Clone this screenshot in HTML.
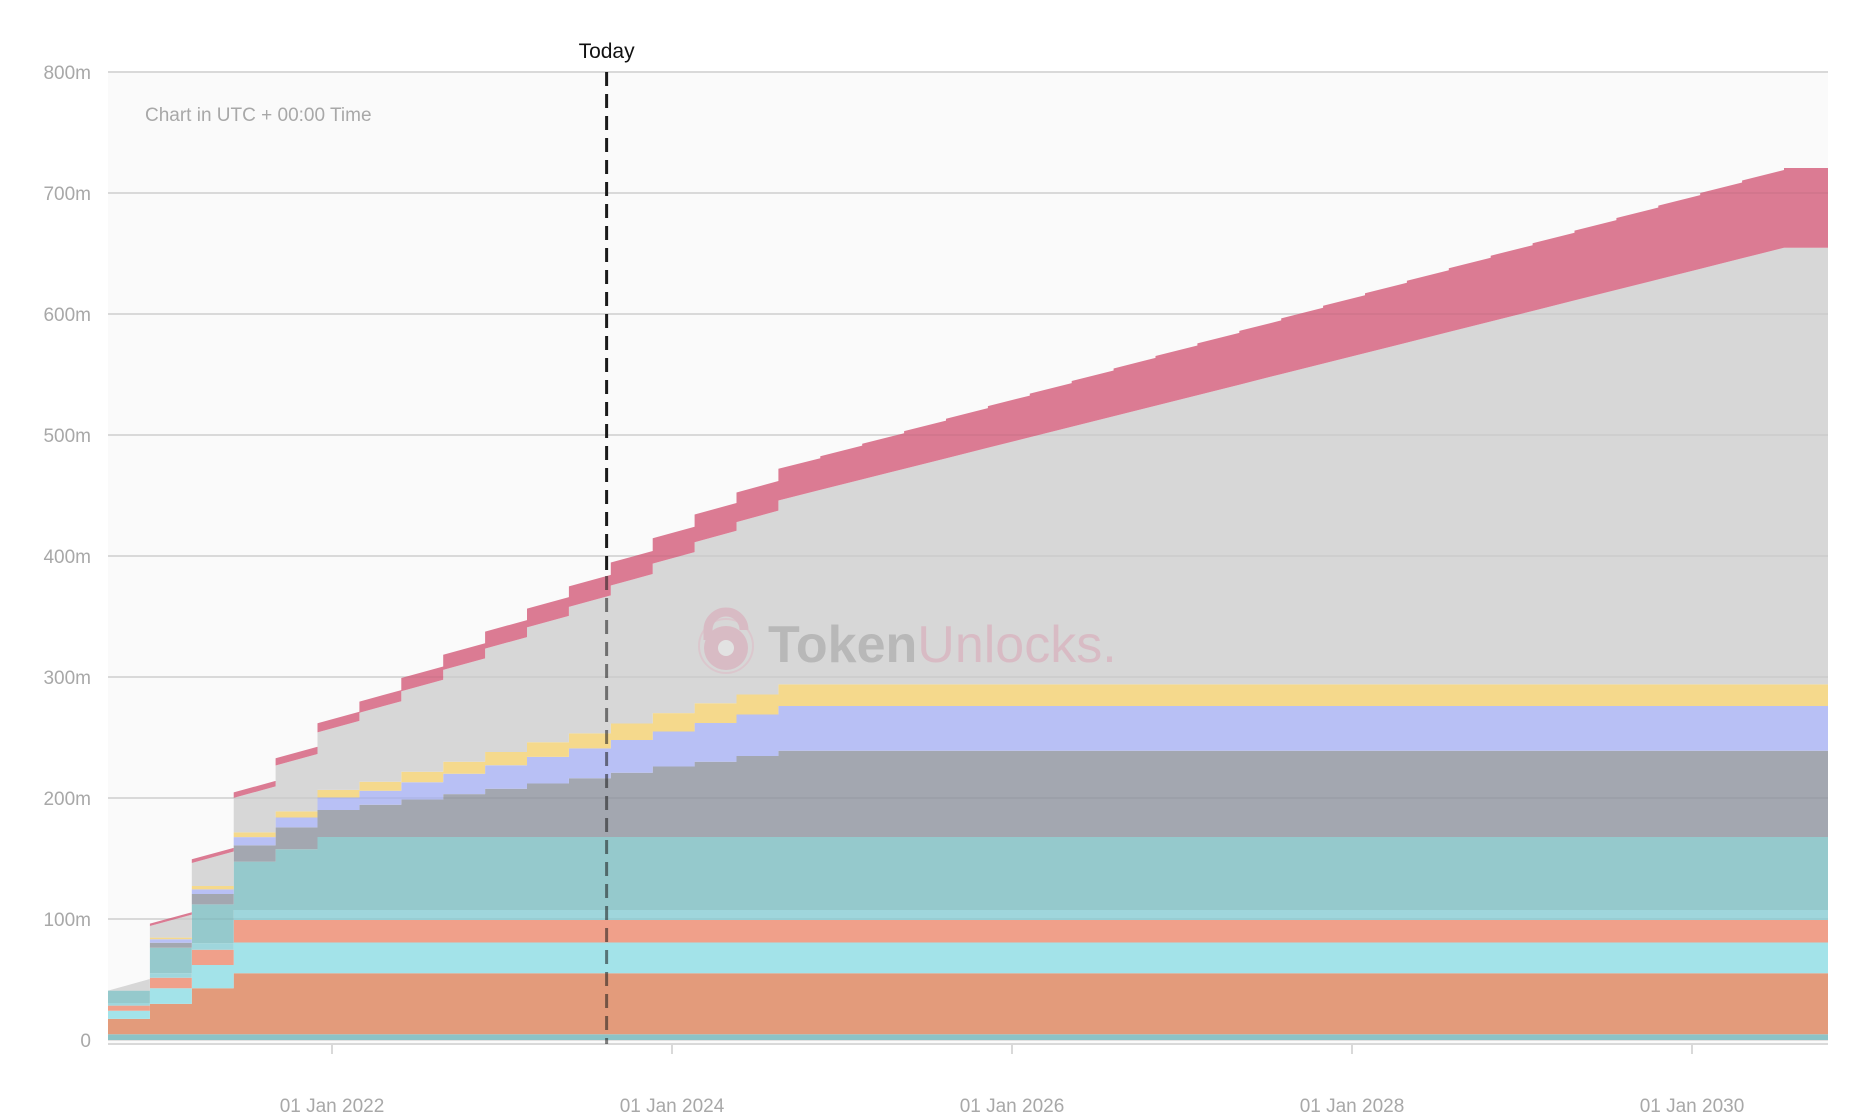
<!DOCTYPE html>
<html><head><meta charset="utf-8"><title>Token unlock schedule</title>
<style>
html,body{margin:0;padding:0;background:#fff;}
svg{display:block;font-family:"Liberation Sans",sans-serif;}
</style></head>
<body>
<svg id="chart" width="1850" height="1120" viewBox="0 0 1850 1120" xmlns="http://www.w3.org/2000/svg">
<rect x="108" y="72" width="1720" height="972" fill="#fafafa"/>
<g id="grid"></g>
<g id="areas"></g>
<g id="gridTop"></g>
<g id="yaxis"></g>
<g id="xaxis"></g>
<text x="145" y="121" font-size="19" fill="#a8a8a8">Chart in UTC + 00:00 Time</text>
<g opacity="0.5">
  <circle cx="726" cy="646" r="27" fill="none" stroke="#e0b8c4" stroke-width="2"/>
  <path d="M708 640 v-10 a18 18 0 0 1 36 0" fill="none" stroke="#d9a0b2" stroke-width="9"/>
  <circle cx="726" cy="648" r="22" fill="#d9a0b2"/>
  <circle cx="726" cy="648" r="8" fill="#eee"/>
  <text x="768" y="662" font-size="52" font-weight="bold" fill="#9a9a9a">Token<tspan font-weight="normal" fill="#d9a0b2">Unlocks.</tspan></text>
</g>
<g id="today"></g>
</svg>
<script>
// ---- data (millions of tokens), one value per quarterly segment (seg0..seg40) ----
const seriesNames = ["base","orange","cyan","salmon","lightCyan","teal","slate","lavender","yellow","linearVesting","red"];
const base      = [4.7,4.7,4.7,4.7,4.7,4.7,4.7,4.7,4.7,4.7,4.7,4.7,4.7,4.7,4.7,4.7,4.7,4.7,4.7,4.7,4.7,4.7,4.7,4.7,4.7,4.7,4.7,4.7,4.7,4.7,4.7,4.7,4.7,4.7,4.7,4.7,4.7,4.7,4.7,4.7,4.7];
const orange    = [12.7,25.1,38,50.4,50.4,50.4,50.4,50.4,50.4,50.4,50.4,50.4,50.4,50.4,50.4,50.4,50.4,50.4,50.4,50.4,50.4,50.4,50.4,50.4,50.4,50.4,50.4,50.4,50.4,50.4,50.4,50.4,50.4,50.4,50.4,50.4,50.4,50.4,50.4,50.4,50.4];
const cyan      = [6.8,12.9,19.3,25.5,25.5,25.5,25.5,25.5,25.5,25.5,25.5,25.5,25.5,25.5,25.5,25.5,25.5,25.5,25.5,25.5,25.5,25.5,25.5,25.5,25.5,25.5,25.5,25.5,25.5,25.5,25.5,25.5,25.5,25.5,25.5,25.5,25.5,25.5,25.5,25.5,25.5];
const salmon    = [4.2,8.8,12.6,18.6,18.6,18.6,18.6,18.6,18.6,18.6,18.6,18.6,18.6,18.6,18.6,18.6,18.6,18.6,18.6,18.6,18.6,18.6,18.6,18.6,18.6,18.6,18.6,18.6,18.6,18.6,18.6,18.6,18.6,18.6,18.6,18.6,18.6,18.6,18.6,18.6,18.6];
const lightCyan = [2.2,3.6,5.5,8.2,8.2,8.2,8.2,8.2,8.2,8.2,8.2,8.2,8.2,8.2,8.2,8.2,8.2,8.2,8.2,8.2,8.2,8.2,8.2,8.2,8.2,8.2,8.2,8.2,8.2,8.2,8.2,8.2,8.2,8.2,8.2,8.2,8.2,8.2,8.2,8.2,8.2];
const teal      = [10.2,21.2,32,40,50.2,60.4,60.4,60.4,60.4,60.4,60.4,60.4,60.4,60.4,60.4,60.4,60.4,60.4,60.4,60.4,60.4,60.4,60.4,60.4,60.4,60.4,60.4,60.4,60.4,60.4,60.4,60.4,60.4,60.4,60.4,60.4,60.4,60.4,60.4,60.4,60.4];
const slate     = [0,4.1,8.6,13.4,18.1,22.3,26.6,31,35.4,39.8,44.2,48.6,53.1,58.2,62.2,66.9,71.2,71.2,71.2,71.2,71.2,71.2,71.2,71.2,71.2,71.2,71.2,71.2,71.2,71.2,71.2,71.2,71.2,71.2,71.2,71.2,71.2,71.2,71.2,71.2,71.2];
const lavender  = [0,2.8,3.8,6.9,8.2,10.3,11.6,14.2,16.8,19.4,22,24.6,27,29,32,34.3,37,37,37,37,37,37,37,37,37,37,37,37,37,37,37,37,37,37,37,37,37,37,37,37,37];
const yellow    = [0,1.4,2.8,3.9,5,6.3,7.5,8.7,9.9,11,12,12.4,13.7,15.2,16.3,16.5,17.9,17.9,17.9,17.9,17.9,17.9,17.9,17.9,17.9,17.9,17.9,17.9,17.9,17.9,17.9,17.9,17.9,17.9,17.9,17.9,17.9,17.9,17.9,17.9,17.9];
// linear vesting: value at each quarter boundary q0..q40 (interpolated inside quarter)
const linearVesting = [0,9.6,19,28.5,38,47.5,57,66.5,76,85.5,95,104.5,114,123.5,133,142.5,152,160.7,169.4,178.1,186.8,195.5,204.2,212.9,221.6,230.3,239,247.7,256.4,265.1,273.8,282.5,291.2,299.9,308.6,317.3,326,334.7,343.4,352.1,360.8];
const red       = [0,2,3,4.5,6,7.5,9.2,11,12.5,14,15.5,17,19,21,23,24.5,26.2,27.9,29.5,31.2,32.8,34.5,36.1,37.8,39.5,41.1,42.8,44.4,46.1,47.8,49.4,51.1,52.7,54.4,56,57.7,59.4,61,62.7,64.3,66];
const yTicks = [0,100,200,300,400,500,600,700,800];
const yTickLabels = ["0","100m","200m","300m","400m","500m","600m","700m","800m"];
const xTickYears = [2022,2024,2026,2028,2030];
const xTickLabels = ["01 Jan 2022","01 Jan 2024","01 Jan 2026","01 Jan 2028","01 Jan 2030"];
const todayQuarter = 11.9;

// ---- scales ----
const X0=108, X1=1828, Y0=1040, YPER=1.21;
function y(v){return Y0 - v*YPER;}
function xq(q){return Math.min(X1, X0 + q*41.9);}
function xYear(yr){return 332 + (yr-2022)*170.0;}

const NS="http://www.w3.org/2000/svg";
function mk(tag,attrs,parent){const e=document.createElementNS(NS,tag);for(const k in attrs)e.setAttribute(k,attrs[k]);parent.appendChild(e);return e;}

// grid
const grid=document.getElementById('grid'), gridTop=document.getElementById('gridTop');
yTicks.forEach((t,i)=>{
  const l=mk('line',{x1:X0,x2:X1,y1:y(t),y2:y(t),stroke:'#e2e2e2','stroke-width':2},grid);
  
  
  if(t>0){const l2=mk('line',{x1:X0,x2:X1,y1:y(t),y2:y(t),stroke:'#000','stroke-opacity':0.04,'stroke-width':2},gridTop);
  
  }
});

// stacked areas
const layers=[
 {d:base,c:'#8cc3c6',lin:false,n:'area-base'},
 {d:orange,c:'#e39b7b',lin:false,n:'area-orange'},
 {d:cyan,c:'#a3e3e9',lin:false,n:'area-cyan'},
 {d:salmon,c:'#f0a08a',lin:false,n:'area-salmon'},
 {d:lightCyan,c:'#9fd6dc',lin:false,n:'area-light-cyan'},
 {d:teal,c:'#95c9cc',lin:false,n:'area-teal'},
 {d:slate,c:'#a3a7b0',lin:false,n:'area-slate'},
 {d:lavender,c:'#b8c0f5',lin:false,n:'area-lavender'},
 {d:yellow,c:'#f5d98c',lin:false,n:'area-yellow'},
 {d:linearVesting,c:'#d7d7d7',lin:true,n:'area-linear-vesting'},
 {d:red,c:'#db7b93',lin:false,n:'area-red'}
];
const NSEG=41;
function segVals(L,s){
  if(!L.lin) return [L.d[s],L.d[s]];
  const a=L.d[Math.min(s,L.d.length-1)], b=L.d[Math.min(s+1,L.d.length-1)];
  return [a,b];
}
let lower=[]; for(let s=0;s<NSEG;s++) lower.push([0,0]);
const areas=document.getElementById('areas');
let topStack=null;
layers.forEach(L=>{
  const upper=[];
  for(let s=0;s<NSEG;s++){const v=segVals(L,s);upper.push([lower[s][0]+v[0],lower[s][1]+v[1]]);}
  let pts=[];
  for(let s=0;s<NSEG;s++){const xs=xq(s), xe=(s==NSEG-1)?X1:xq(s+1);pts.push(xs+','+y(upper[s][0]).toFixed(1));pts.push(xe+','+y(upper[s][1]).toFixed(1));}
  for(let s=NSEG-1;s>=0;s--){const xs=xq(s), xe=(s==NSEG-1)?X1:xq(s+1);pts.push(xe+','+y(lower[s][1]).toFixed(1));pts.push(xs+','+y(lower[s][0]).toFixed(1));}
  const p=mk('polygon',{points:pts.join(' '),fill:L.c},areas);
  
  
  lower=upper; topStack=upper;
});

// y axis
const ya=document.getElementById('yaxis');
yTicks.forEach((t,i)=>{
  const tx=mk('text',{x:91,y:y(t)+7,'text-anchor':'end','font-size':19,fill:'#a8a8a8'},ya);
  tx.textContent=yTickLabels[i];
  
  
});
// x axis
const xa=document.getElementById('xaxis');
const ax=mk('line',{x1:X0,x2:X1,y1:1044,y2:1044,stroke:'#d9d9d9','stroke-width':2},xa);


xTickYears.forEach((yr,i)=>{
  const tk=mk('line',{x1:xYear(yr),x2:xYear(yr),y1:1044,y2:1054,stroke:'#d9d9d9','stroke-width':2},xa);
  
  
  const tx=mk('text',{x:xYear(yr),y:1112,'text-anchor':'middle','font-size':19,fill:'#a8a8a8'},xa);
  tx.textContent=xTickLabels[i];
  
  
});

// today marker
const tg=document.getElementById('today');
const tx=xq(todayQuarter);
const seg=Math.floor(todayQuarter);
const f=todayQuarter-seg;
const topV=topStack[seg][0]+(topStack[seg][1]-topStack[seg][0])*f;
const l1=mk('line',{x1:tx,x2:tx,y1:72,y2:y(topV),stroke:'#1a1a1a','stroke-width':3,'stroke-dasharray':'14 8'},tg);


const l2=mk('line',{x1:tx,x2:tx,y1:y(topV),y2:1044,stroke:'#1a1a1a','stroke-opacity':0.55,'stroke-width':3,'stroke-dasharray':'14 8'},tg);


const tl=mk('text',{x:tx,y:58,'text-anchor':'middle','font-size':21,fill:'#111'},tg);
tl.textContent='Today';


</script>
</body></html>
